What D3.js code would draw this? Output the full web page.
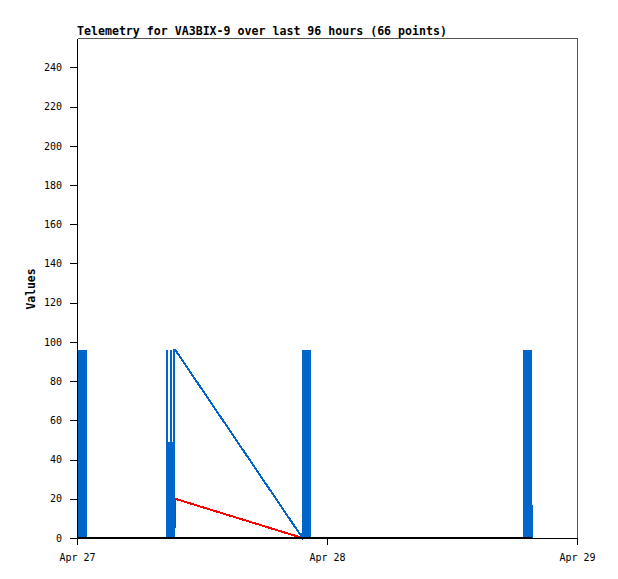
<!DOCTYPE html>
<html>
<head>
<meta charset="utf-8">
<script src="https://cdn.jsdelivr.net/npm/d3@7"></script>
<style>
  html, body { margin: 0; padding: 0; background: #fff; }
  svg { display: block; }
  text { font-family: "DejaVu Sans Mono", monospace; }
</style>
</head>
<body>
<svg id="chart" width="618" height="579"></svg>
<script>
// ---- data (minutes after Apr 27 00:00) ----
const titleText = "Telemetry for VA3BIX-9 over last 96 hours (66 points)";
const yLabel = "Values";
const startDate = new Date(2024, 3, 27, 0, 0, 0);
const endDate = new Date(2024, 3, 29, 0, 0, 0);
const yMax = 255;
const yTicks = [0, 20, 40, 60, 80, 100, 120, 140, 160, 180, 200, 220, 240];

const minutes = [
  8.6, 11.5, 14.4, 17.3, 20.2, 23.0, 25.9, 28.8, 31.7, 34.6, 37.4, 40.3, 43.2, 46.1, 49.0, 51.8,
  518.1, 518.4, 524.2, 532.5, 532.8, 533.1, 541.2, 541.4, 541.7, 549.8, 550.1, 550.4, 558.4, 558.7, 564.5, 565.4,
  1298.9, 1301.8, 1304.6, 1307.5, 1310.4, 1313.3, 1316.2, 1319.0, 1321.9, 1324.8, 1327.7, 1330.6, 1333.4, 1336.3, 1339.2, 1342.1, 1345.0,
  2572.4, 2575.3, 2578.2, 2581.1, 2584.0, 2586.8, 2589.7, 2592.6, 2595.5, 2598.4, 2601.2, 2604.1, 2607.0, 2609.9, 2612.8, 2615.6, 2618.5
];
const blueValues = [
  96, 0, 96, 0, 96, 0, 96, 0, 96, 0, 96, 0, 96, 0, 96, 0,
  0, 96, 0, 0, 49, 0, 0, 96, 0, 0, 49, 0, 0, 96, 96, 96,
  0, 96, 0, 96, 0, 96, 0, 96, 0, 96, 0, 96, 0, 96, 0, 96, 0,
  0, 96, 0, 96, 0, 96, 0, 96, 0, 96, 0, 96, 0, 96, 0, 96, 0
];
const redValues = [
  0, 0, 0, 0, 0, 0, 0, 0, 0, 0, 0, 0, 0, 0, 0, 0,
  0, 0, 0, 0, 0, 0, 0, 0, 0, 0, 0, 0, 0, 0, 10, 20,
  0, 0, 0, 0, 0, 0, 0, 0, 0, 0, 0, 0, 0, 0, 0, 0, 0,
  0, 0, 0, 0, 0, 0, 0, 0, 0, 0, 0, 0, 0, 0, 0, 0, 0
];
const blackValues = [
  0, 0, 0, 0, 0, 0, 0, 0, 0, 0, 0, 0, 0, 0, 0, 0,
  0, 0, 0, 0, 0, 0, 0, 0, 0, 0, 0, 0, 0, 0, 0, 0,
  0, 0, 0, 0, 0, 0, 0, 0, 0, 0, 0, 0, 0, 0, 0, 0, 0,
  0, 0, 0, 0, 0, 0, 0, 0, 0, 0, 0, 0, 0, 0, 0, 0, 0
];
const seriesColors = { red: "#ff0000", blue: "#0066cc", black: "#000000" };

// ---- layout ----
const plotL = 77, plotR = 577, plotT = 38, plotB = 538;
const svg = d3.select("#chart");

const times = minutes.map(m => new Date(startDate.getTime() + m * 60000));
const x = d3.scaleTime().domain([startDate, endDate]).range([plotL, plotR]);
const y = d3.scaleLinear().domain([0, yMax]).range([plotB, plotT]);

// frame (top/right in grey)
svg.append("path")
  .attr("d", `M${plotL + 0.5},${plotT + 0.5}H${plotR + 0.5}V${plotB + 0.5}`)
  .attr("fill", "none").attr("stroke", "#555").attr("stroke-width", 1)
  .attr("shape-rendering", "crispEdges");

// series lines
const line = vals => d3.line()
  .x((d, i) => x(times[i]))
  .y((d, i) => y(vals[i]))(vals);

[["red", redValues], ["blue", blueValues], ["black", blackValues]].forEach(([c, vals]) => {
  svg.append("path")
    .attr("d", line(vals))
    .attr("fill", "none")
    .attr("stroke", seriesColors[c])
    .attr("stroke-width", 2)
    .attr("shape-rendering", "crispEdges");
});

// axes
const yAxis = d3.axisLeft(y).tickValues(yTicks).tickSize(7).tickSizeOuter(0).tickPadding(8);
const gy = svg.append("g").attr("transform", `translate(${plotL},0)`).call(yAxis);
const xAxis = d3.axisBottom(x).ticks(d3.timeDay.every(1)).tickFormat(d3.timeFormat("%b %d"))
  .tickSize(7).tickSizeOuter(0).tickPadding(9);
const gx = svg.append("g").attr("transform", `translate(0,${plotB})`).call(xAxis);

[gy, gx].forEach(g => {
  g.selectAll("path, line").attr("stroke", "#000").attr("shape-rendering", "crispEdges");
  g.selectAll("text").attr("fill", "#000")
    .style("font-family", "'DejaVu Sans Mono', monospace").style("font-size", "10px");
});

// title
svg.append("text")
  .attr("x", plotL).attr("y", 35)
  .style("font-size", "11.6px").style("font-weight", "bold")
  .attr("fill", "#000")
  .text(titleText);

// y label
svg.append("text")
  .attr("transform", `translate(35,${(plotT + plotB) / 2 + 1}) rotate(-90)`)
  .attr("text-anchor", "middle")
  .style("font-size", "11.4px").style("font-weight", "bold")
  .attr("fill", "#000")
  .text(yLabel);
</script>
</body>
</html>
